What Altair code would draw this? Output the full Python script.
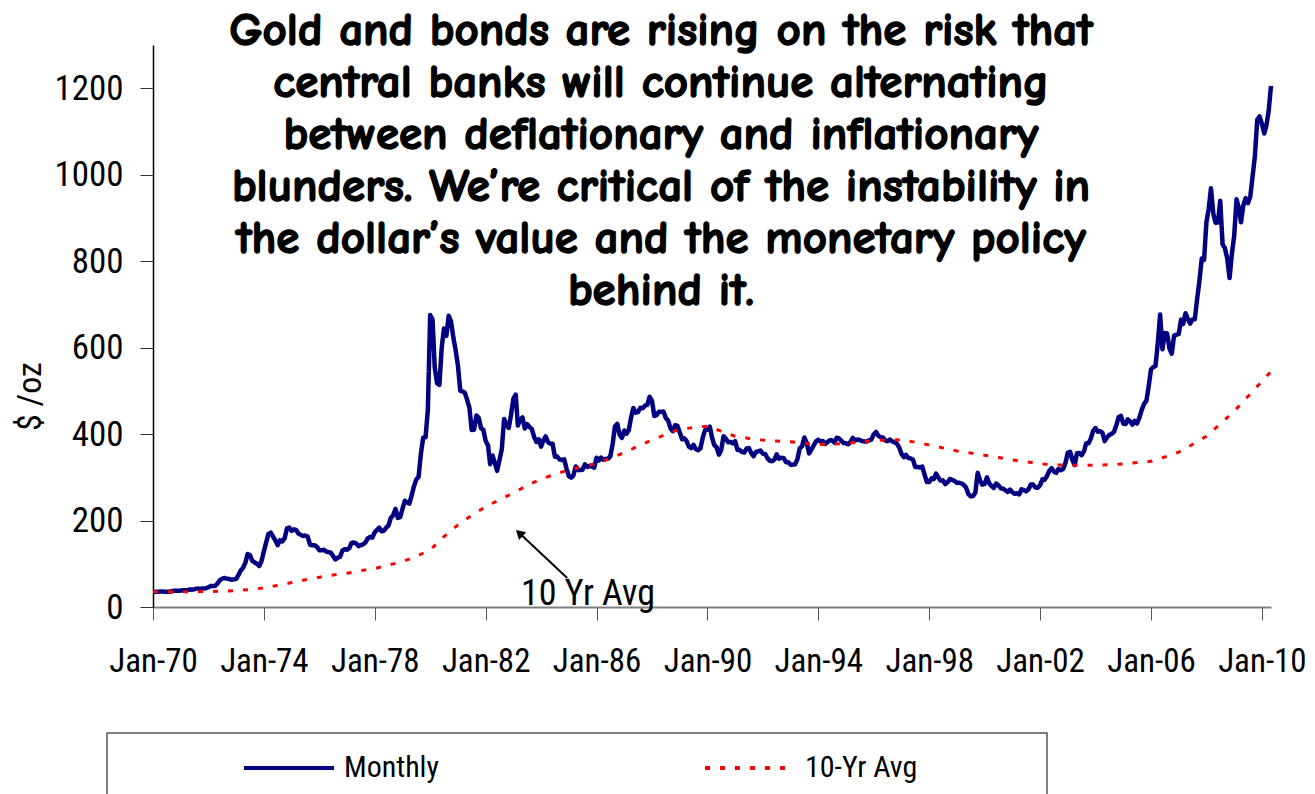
import altair as alt
import pandas as pd

# ---------------- data ----------------
gold_1970s = [
    34.9, 35.0, 35.1, 35.6, 35.9, 35.4, 35.3, 35.4, 36.2, 37.5, 37.4, 37.4,
    37.9, 38.7, 38.9, 39.0, 40.5, 40.1, 41.0, 42.7, 42.0, 42.5, 42.9, 43.5,
    45.8, 48.3, 48.3, 49.0, 54.6, 62.1, 65.7, 67.0, 65.5, 64.9, 62.9, 63.9,
    65.1, 74.2, 84.4, 90.5, 102.0, 122.5, 120.2, 106.8, 103.0, 100.1, 94.8, 106.5,
    129.2, 150.2, 168.4, 172.2, 163.3, 154.1, 143.0, 154.6, 151.8, 158.8, 181.7, 183.9,
    176.0, 179.6, 178.2, 170.0, 167.0, 164.2, 165.2, 163.0, 144.1, 142.7, 142.8, 139.3,
    131.4, 131.0, 132.6, 128.2, 126.9, 125.8, 117.7, 109.9, 114.1, 116.0, 130.6, 133.8,
    132.3, 136.4, 148.4, 149.4, 146.7, 140.8, 143.2, 144.9, 149.5, 158.8, 162.1, 160.5,
    173.2, 178.2, 183.7, 175.1, 176.3, 183.7, 188.7, 206.4, 212.4, 227.2, 206.0, 207.8,
    227.3, 245.7, 242.1, 239.2, 257.6, 279.1, 294.7, 300.8, 355.1, 391.7, 392.5, 455.1,
]
gold_1980s = [
    675.3, 665.3, 553.6, 517.4, 513.8, 600.7, 644.3, 627.2, 673.6, 661.2, 623.5, 594.9,
    557.4, 500.0, 498.8, 495.8, 479.7, 460.8, 409.3, 410.1, 443.1, 437.8, 413.4, 410.1,
    384.2, 374.1, 330.2, 350.5, 333.9, 314.9, 339.1, 364.3, 435.0, 421.3, 414.2, 444.4,
    481.7, 491.3, 419.7, 432.8, 438.4, 412.7, 422.9, 416.3, 411.8, 393.6, 381.6, 388.0,
    370.9, 386.0, 394.7, 381.6, 377.7, 377.6, 347.7, 348.0, 341.1, 340.1, 341.4, 320.2,
    302.8, 299.1, 304.0, 324.9, 316.6, 316.8, 317.6, 329.9, 323.8, 326.2, 325.3, 322.3,
    345.4, 338.9, 345.7, 340.4, 342.5, 342.9, 348.5, 376.7, 418.1, 423.7, 398.6, 391.1,
    408.3, 401.1, 408.9, 438.4, 460.2, 449.6, 450.8, 460.8, 460.0, 465.6, 467.7, 486.3,
    476.6, 442.1, 443.6, 451.7, 451.4, 452.0, 437.1, 431.4, 413.5, 406.7, 420.3, 419.2,
    404.0, 387.9, 390.2, 384.1, 371.0, 367.6, 374.9, 365.4, 362.6, 367.2, 392.4, 409.2,
]
gold_1990s = [
    410.1, 417.0, 393.1, 374.3, 369.7, 352.3, 362.7, 394.9, 389.3, 380.7, 381.9, 378.2,
    383.7, 363.3, 363.5, 358.4, 357.4, 366.7, 367.7, 356.2, 348.7, 358.7, 359.9, 361.7,
    354.5, 353.9, 344.3, 338.6, 337.2, 340.8, 353.1, 342.9, 345.4, 344.4, 335.0, 334.8,
    329.0, 329.3, 330.1, 342.2, 367.2, 371.9, 392.0, 379.8, 355.3, 364.2, 373.8, 383.3,
    386.9, 381.9, 384.1, 377.3, 381.4, 385.6, 385.5, 380.4, 391.6, 389.8, 384.4, 379.3,
    378.6, 376.5, 382.1, 391.0, 385.2, 387.6, 386.2, 383.7, 383.0, 383.1, 385.5, 387.5,
    399.5, 404.8, 396.2, 392.9, 391.9, 385.3, 383.5, 387.5, 383.1, 381.1, 377.9, 369.2,
    354.1, 346.6, 351.8, 344.5, 343.8, 340.8, 324.1, 324.0, 322.8, 324.9, 306.0, 289.0,
    289.1, 297.5, 295.9, 308.4, 299.4, 292.3, 292.9, 284.1, 288.9, 296.0, 294.1, 291.6,
    287.1, 287.3, 286.0, 282.6, 276.4, 261.3, 256.1, 256.7, 264.7, 310.7, 293.2, 283.1,
]
gold_2000s = [
    284.6, 300.1, 286.4, 280.0, 275.3, 285.6, 281.6, 274.5, 273.7, 270.0, 266.0, 271.5,
    265.5, 261.9, 263.0, 260.5, 272.4, 270.2, 267.5, 272.4, 283.4, 283.1, 276.2, 275.9,
    281.7, 295.5, 294.0, 302.7, 314.5, 321.2, 313.3, 310.3, 319.2, 316.6, 319.2, 333.4,
    356.9, 359.0, 340.6, 328.2, 355.7, 356.4, 351.0, 359.8, 378.9, 378.9, 389.9, 407.6,
    414.0, 405.3, 406.7, 403.0, 383.8, 392.4, 398.1, 400.5, 405.3, 420.5, 439.4, 442.1,
    424.0, 423.4, 434.2, 429.2, 421.9, 430.7, 424.5, 437.9, 456.0, 469.9, 476.7, 510.1,
    549.9, 555.0, 557.1, 610.6, 676.5, 596.2, 633.8, 632.6, 598.2, 585.8, 627.8, 629.8,
    631.2, 664.8, 654.9, 679.4, 666.9, 655.5, 665.3, 665.4, 712.7, 754.6, 806.3, 803.2,
    889.6, 922.3, 968.4, 909.7, 888.7, 889.5, 939.8, 839.0, 829.9, 806.6, 760.9, 816.1,
    858.7, 943.2, 924.3, 890.2, 928.6, 945.7, 934.2, 949.4, 996.6, 1043.2, 1127.0, 1134.7,
]
gold_2010 = [1117.9, 1095.4, 1113.3, 1148.7, 1205.4]

avg_dates = [
    "1970-01", "1970-07", "1971-01", "1971-07", "1972-01", "1972-07", "1973-01", "1973-07",
    "1974-01", "1974-07", "1975-01", "1975-07", "1976-01", "1976-07", "1977-01", "1977-07",
    "1978-01", "1978-07", "1979-01", "1979-07", "1980-01", "1980-07", "1981-01", "1981-07",
    "1982-01", "1982-07", "1983-01", "1983-07", "1984-01", "1984-07", "1985-01", "1985-07",
    "1986-01", "1986-07", "1987-01", "1987-07", "1988-01", "1988-07", "1989-01", "1989-07",
    "1990-01", "1990-07", "1991-01", "1991-07", "1992-01", "1992-07", "1993-01", "1993-07",
    "1994-01", "1994-07", "1995-01", "1995-07", "1996-01", "1996-07", "1997-01", "1997-07",
    "1998-01", "1998-07", "1999-01", "1999-07", "2000-01", "2000-07", "2001-01", "2001-07",
    "2002-01", "2002-07", "2003-01", "2003-07", "2004-01", "2004-07", "2005-01", "2005-07",
    "2006-01", "2006-07", "2007-01", "2007-07", "2008-01", "2008-07", "2009-01", "2009-07",
    "2010-01", "2010-05",
]
avg_values = [
    35, 35, 35.1, 35.4, 35.7, 36.6, 37.9, 40.5,
    44, 50, 56.5, 63, 69, 74, 78, 84,
    89, 97, 105, 117, 132, 163, 190, 212,
    232, 248, 264, 281, 296, 307, 317, 325,
    332, 344, 357, 372, 386, 399, 411, 415,
    418, 407, 395, 390, 386, 384, 382, 379,
    376, 377, 378, 382, 385, 386, 387, 381,
    375, 368, 361, 356, 351, 346, 340, 336,
    331, 329, 328, 328, 328, 329, 331, 334,
    337, 347, 358, 376, 395, 423, 453, 487,
    522, 545,
]

series_names = ["Monthly", "10-Yr Avg"]
series_colors = ["#000080", "#FF0000"]
tick_years = [1970, 1974, 1978, 1982, 1986, 1990, 1994, 1998, 2002, 2006, 2010]
y_ticks = [0, 200, 400, 600, 800, 1000, 1200]

title_lines = [
    "Gold and bonds are rising on the risk that",
    "central banks will continue alternating",
    "between deflationary and inflationary",
    "blunders.  We\u2019re critical of the instability in",
    "the dollar\u2019s value and the monetary policy",
    "behind it.",
]

annot_text = "10 Yr Avg"
arrow_tail = ("1984-12-10", 67)
arrow_tip = ("1983-03-20", 171)
annot_pos = ("1983-04-10", 5)

# ---------------- frames ----------------
monthly = gold_1970s + gold_1980s + gold_1990s + gold_2000s + gold_2010
df_m = pd.DataFrame({
    "date": pd.date_range("1970-01-01", periods=len(monthly), freq="MS"),
    "value": monthly,
    "series": "Monthly",
})
df_a = pd.DataFrame({
    "date": pd.to_datetime(avg_dates),
    "value": avg_values,
    "series": "10-Yr Avg",
})
df = pd.concat([df_m, df_a], ignore_index=True)

NARROW = ("Liberation Sans Narrow, Arial Narrow, Roboto Condensed, Noto Sans Condensed, "
          "Open Sans Condensed, DejaVu Sans Condensed, Liberation Sans, sans-serif")
COMIC = "Comic Sans MS, Comic Neue, DejaVu Sans, sans-serif"

x_scale = alt.Scale(domain=[alt.DateTime(year=1970, month=1, date=1),
                            alt.DateTime(year=2010, month=5, date=1)])
y_scale = alt.Scale(domain=[0, 1300], nice=False)

legend = alt.Legend(
    title=None, orient="none", legendX=89, legendY=676, direction="horizontal",
    symbolType="stroke", symbolSize=8100, symbolStrokeWidth=4,
    labelFont=NARROW, labelFontSize=30, labelColor="black", labelOffset=8,
    columnPadding=258, padding=0,
)

x_enc = alt.X("date:T", scale=x_scale, title=None,
              axis=alt.Axis(values=[alt.DateTime(year=y, month=1, date=1) for y in tick_years],
                            format="%b-%y", grid=False, labelFont=NARROW, labelFontSize=33,
                            labelColor="black", labelPadding=25, tickSize=13,
                            tickColor="#555555", domainColor="#808080", domainWidth=2,
                            labelFlush=False, labelOverlap=False))
y_enc = alt.Y("value:Q", scale=y_scale,
              axis=alt.Axis(values=y_ticks, format="d", grid=False, title="$ /oz",
                            titleFont=NARROW, titleFontSize=34, titleFontWeight="normal",
                            titleColor="black", titleX=-106, titleY=351,
                            labelFont=NARROW, labelFontSize=35, labelColor="black",
                            labelPadding=17, tickSize=13, tickColor="#333333",
                            domainColor="#000000", domainWidth=1.5))
color_enc = alt.Color("series:N", scale=alt.Scale(domain=series_names, range=series_colors),
                      legend=legend)
dash_enc = alt.StrokeDash("series:N",
                          scale=alt.Scale(domain=series_names, range=[[1, 0], [5, 10]]),
                          legend=legend)

blue = alt.Chart(df).transform_filter(alt.datum.series == "Monthly").mark_line(
    strokeWidth=4.5, strokeJoin="round"
).encode(x=x_enc, y=y_enc, color=color_enc, strokeDash=dash_enc)

red = alt.Chart(df).transform_filter(alt.datum.series == "10-Yr Avg").mark_line(
    strokeWidth=3, strokeCap="butt"
).encode(x="date:T", y="value:Q", color=color_enc, strokeDash=dash_enc)

arrow_df = pd.DataFrame({
    "x": [pd.Timestamp(arrow_tail[0])], "y": [arrow_tail[1]],
    "x2": [pd.Timestamp(arrow_tip[0])], "y2": [arrow_tip[1]],
})
arrow = alt.Chart(arrow_df).mark_rule(color="black", strokeWidth=2).encode(
    x="x:T", y="y:Q", x2="x2:T", y2="y2:Q")
head = alt.Chart(arrow_df).mark_point(shape="triangle-up", filled=True, size=110,
                                      color="black", opacity=1, angle=313).encode(
    x="x2:T", y="y2:Q")

annot_df = pd.DataFrame({"x": [pd.Timestamp(annot_pos[0])], "y": [annot_pos[1]],
                         "t": [annot_text]})
annot = alt.Chart(annot_df).mark_text(align="left", baseline="alphabetic", font=NARROW,
                                      fontSize=36, color="black").encode(
    x="x:T", y="y:Q", text="t:N")

one = pd.DataFrame({"k": [0]})
title_txt = alt.Chart(one).mark_text(font=COMIC, fontSize=47, fontWeight="bold",
                                     lineHeight=52, align="center", baseline="alphabetic",
                                     color="black", stroke="black", strokeWidth=1.5).encode(
    x=alt.value(508), y=alt.value(0), text=alt.value(title_lines))

legend_box = alt.Chart(one).mark_rect(fill="white", fillOpacity=0, stroke="#555555",
                                      strokeWidth=1.5).encode(
    x=alt.value(-46), x2=alt.value(894), y=alt.value(688), y2=alt.value(800))

chart = alt.layer(legend_box, blue, red, arrow, head, annot, title_txt).properties(
    width=1118, height=562,
    autosize=alt.AutoSizeParams(type="none"),
    padding={"left": 145, "top": 37, "right": 36, "bottom": 187},
    background="white",
).configure_view(stroke=None)

chart.save("out.html", embed_options={"renderer": "svg", "actions": False})
